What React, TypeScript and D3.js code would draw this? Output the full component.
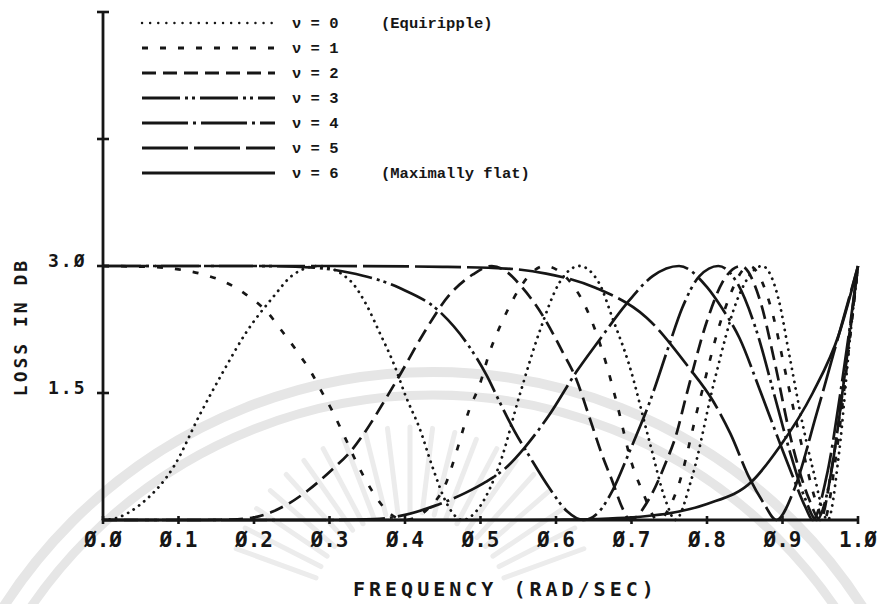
import React from "react";
import * as d3 from "d3";

type Pt = [number, number];

// Passband loss (dB) versus frequency (rad/s), one series per transitional parameter ν
const nu0: Pt[] = [
  [0, 0], [0.02, 0.03], [0.049, 0.18], [0.095, 0.65], [0.128, 1.24], [0.159, 1.75],
  [0.19, 2.22], [0.225, 2.63], [0.251, 2.89], [0.285, 3.0], [0.327, 2.83], [0.349, 2.54],
  [0.366, 2.22], [0.384, 1.87], [0.402, 1.44], [0.419, 1.09], [0.437, 0.61], [0.455, 0.2],
  [0.476, 0], [0.5, 0.17], [0.525, 0.65], [0.552, 1.48], [0.578, 2.22], [0.605, 2.81],
  [0.631, 3.0], [0.657, 2.8], [0.675, 2.38], [0.697, 1.83], [0.724, 0.92], [0.746, 0.21],
  [0.758, 0], [0.78, 0.5], [0.81, 1.65], [0.84, 2.6], [0.873, 3.0], [0.895, 2.6],
  [0.909, 1.95], [0.926, 1.16], [0.94, 0.61], [0.96, 0], [0.975, 0.8], [0.99, 2.2], [1.0, 3.0],
];

const nu1: Pt[] = [
  [0, 3.0], [0.06, 2.99], [0.1, 2.96], [0.137, 2.89], [0.164, 2.8], [0.19, 2.66],
  [0.217, 2.46], [0.238, 2.22], [0.258, 1.98], [0.276, 1.74], [0.29, 1.51], [0.303, 1.3],
  [0.316, 1.06], [0.342, 0.57], [0.356, 0.35], [0.377, 0.1], [0.4, 0], [0.43, 0.13],
  [0.455, 0.45], [0.468, 0.8], [0.485, 1.3], [0.499, 1.6], [0.512, 1.98], [0.525, 2.27],
  [0.536, 2.48], [0.552, 2.74], [0.585, 3.0], [0.615, 2.85], [0.638, 2.54], [0.667, 1.83],
  [0.68, 1.4], [0.701, 0.65], [0.714, 0.35], [0.735, 0], [0.76, 0.35], [0.79, 1.4],
  [0.822, 2.45], [0.856, 3.0], [0.885, 2.5], [0.905, 1.7], [0.925, 0.9], [0.945, 0.2],
  [0.955, 0], [0.97, 0.7], [0.985, 1.8], [1.0, 3.0],
];

const nu2: Pt[] = [
  [0, 0], [0.12, 0], [0.17, 0.005], [0.2, 0.03], [0.225, 0.1], [0.247, 0.2], [0.27, 0.34],
  [0.304, 0.6], [0.327, 0.8], [0.344, 1.0], [0.375, 1.44], [0.393, 1.71], [0.423, 2.18],
  [0.459, 2.66], [0.49, 2.9], [0.515, 3.0], [0.535, 2.93], [0.552, 2.78], [0.582, 2.42],
  [0.609, 1.98], [0.627, 1.66], [0.644, 1.22], [0.661, 0.77], [0.675, 0.45], [0.688, 0.14],
  [0.698, 0], [0.724, 0.26], [0.746, 0.69], [0.759, 1.0], [0.772, 1.45], [0.8, 2.35],
  [0.82, 2.8], [0.845, 3.0], [0.87, 2.6], [0.89, 1.85], [0.91, 1.0], [0.935, 0.25],
  [0.95, 0], [0.965, 0.6], [0.985, 1.9], [1.0, 3.0],
];

const nu3: Pt[] = [
  [0, 3.0], [0.2, 3.0], [0.28, 2.98], [0.327, 2.92], [0.393, 2.74], [0.446, 2.46],
  [0.481, 2.1], [0.508, 1.71], [0.525, 1.4], [0.545, 1.05], [0.565, 0.75], [0.591, 0.38],
  [0.615, 0.1], [0.636, 0], [0.655, 0.08], [0.675, 0.35], [0.697, 0.8], [0.724, 1.39],
  [0.75, 2.07], [0.767, 2.5], [0.79, 2.88], [0.815, 3.0], [0.84, 2.8], [0.865, 2.25],
  [0.89, 1.45], [0.91, 0.8], [0.93, 0.25], [0.945, 0], [0.96, 0.35], [0.975, 1.2],
  [0.99, 2.3], [1.0, 3.0],
];

const nu4: Pt[] = [
  [0, 0], [0.3, 0], [0.36, 0.01], [0.4, 0.06], [0.44, 0.17], [0.48, 0.32], [0.507, 0.45],
  [0.534, 0.62], [0.558, 0.85], [0.591, 1.24], [0.627, 1.75], [0.657, 2.12], [0.693, 2.55],
  [0.728, 2.88], [0.763, 3.0], [0.8, 2.75], [0.82, 2.5], [0.843, 2.15], [0.869, 1.56],
  [0.896, 0.92], [0.913, 0.53], [0.931, 0.14], [0.94, 0], [0.958, 0.5], [0.98, 1.7], [1.0, 3.0],
];

const nu5: Pt[] = [
  [0, 3.0], [0.3, 3.0], [0.45, 2.99], [0.534, 2.97], [0.587, 2.91], [0.653, 2.74],
  [0.72, 2.39], [0.776, 1.8], [0.807, 1.42], [0.831, 1.02], [0.856, 0.5], [0.875, 0.2],
  [0.892, 0], [0.915, 0.35], [0.945, 1.25], [0.975, 2.2], [1.0, 3.0],
];

const nu6: Pt[] = [
  [0, 0], [0.55, 0], [0.6, 0.003], [0.65, 0.01], [0.7, 0.03], [0.763, 0.1], [0.8, 0.19],
  [0.86, 0.46], [0.895, 0.85], [0.94, 1.5], [0.975, 2.2], [1.0, 3.0],
];

const seriesData: Pt[][] = [nu0, nu1, nu2, nu3, nu4, nu5, nu6];
const seriesLabels = ["ν = 0", "ν = 1", "ν = 2", "ν = 3", "ν = 4", "ν = 5", "ν = 6"];
const seriesNotes = ["(Equiripple)", "", "", "", "", "", "(Maximally flat)"];

const xTicks = [0, 0.1, 0.2, 0.3, 0.4, 0.5, 0.6, 0.7, 0.8, 0.9, 1.0];
const yTicks = [1.5, 3.0, 4.5, 6.0];
const yTickLabels = ["1.5", "3.Ø", "", ""];

// line pattern for each ν: dotted, short dash, dash, dash-dot-dot, dash-dot, long dash, solid
const dashes = ["0.1 6.5", "6 12", "14 7", "38 5 3 4 3 5", "46 5 3 5", "46 6", ""];

const INK = "#161616";
const MONO = "'DejaVu Sans Mono', monospace";

const fmtTick = (v: number) => v.toFixed(1).replace(/0/g, "Ø");

export default function App() {
  const x = d3.scaleLinear().domain([0, 1]).range([103, 858]);
  const y = d3.scaleLinear().domain([0, 6]).range([520, 12]);
  const line = d3
    .line<Pt>()
    .x((d) => x(d[0]))
    .y((d) => y(d[1]))
    .curve(d3.curveMonotoneX);

  // faint seal in the paper background
  const sealC = { cx: 433, cy: 882 };
  const sun = { cx: 410, cy: 612 };
  const rays = d3.range(-160, -15, 7);

  return (
    <svg
      width={879}
      height={604}
      style={{ position: "absolute", left: 0, top: 0, background: "#fff" }}
    >
      <rect x={0} y={0} width={879} height={604} fill="#fff" />
      <g fill="none" stroke="#e6e6e6">
        <circle cx={sealC.cx} cy={sealC.cy} r={510} strokeWidth={10} />
        <circle cx={sealC.cx} cy={sealC.cy} r={487} strokeWidth={9} />
        {rays.map((a) => {
          const r = (a * Math.PI) / 180;
          return (
            <line
              key={a}
              x1={sun.cx + 100 * Math.cos(r)}
              y1={sun.cy + 100 * Math.sin(r)}
              x2={sun.cx + 185 * Math.cos(r)}
              y2={sun.cy + 185 * Math.sin(r)}
              strokeWidth={5}
              strokeLinecap="round"
              stroke="#ececec"
            />
          );
        })}
      </g>

      {/* axes */}
      <line x1={x(0)} x2={x(0)} y1={y(0)} y2={y(6)} stroke={INK} strokeWidth={2.8} />
      <line x1={x(0)} x2={x(1)} y1={y(0)} y2={y(0)} stroke={INK} strokeWidth={3.2} />
      {xTicks.map((t) => (
        <g key={t}>
          <line x1={x(t)} x2={x(t)} y1={y(0) - 4} y2={y(0) + 4} stroke={INK} strokeWidth={2.6} />
          <text
            x={x(t)}
            y={547}
            textAnchor="middle"
            fontFamily={MONO}
            fontWeight="bold"
            fontSize={21}
            fill={INK}
          >
            {fmtTick(t)}
          </text>
        </g>
      ))}
      {yTicks.map((t, i) => (
        <g key={t}>
          <line x1={x(0) - 6} x2={x(0) + 6} y1={y(t)} y2={y(t)} stroke={INK} strokeWidth={2.6} />
          {yTickLabels[i] && (
            <text
              x={48}
              y={y(t) + 1}
              fontFamily={MONO}
              fontWeight="bold"
              fontSize={18}
              letterSpacing={2}
              fill={INK}
            >
              {yTickLabels[i]}
            </text>
          )}
        </g>
      ))}

      <text
        transform="translate(27,327) rotate(-90)"
        textAnchor="middle"
        fontFamily={MONO}
        fontWeight="bold"
        fontSize={18}
        letterSpacing={3}
        fill={INK}
      >
        LOSS IN DB
      </text>
      <text
        x={353}
        y={596}
        fontFamily={MONO}
        fontWeight="bold"
        fontSize={20}
        letterSpacing={4}
        fill={INK}
      >
        FREQUENCY (RAD/SEC)
      </text>

      {/* loss curves */}
      {seriesData.map((d, i) => (
        <path
          key={i}
          d={line(d) ?? ""}
          fill="none"
          stroke={INK}
          strokeWidth={i === 0 ? 2.8 : 2.7}
          strokeDasharray={dashes[i] || undefined}
          strokeLinecap={i === 0 ? "round" : "butt"}
        />
      ))}

      {/* legend */}
      {seriesLabels.map((lab, i) => {
        const ly = 23 + i * 25;
        return (
          <g key={lab}>
            <line
              x1={142}
              x2={275}
              y1={ly}
              y2={ly}
              stroke={INK}
              strokeWidth={i === 0 ? 2.4 : 3}
              strokeDasharray={i === 0 ? "0.1 8" : dashes[i] || undefined}
              strokeLinecap={i === 0 ? "round" : "butt"}
            />
            <text
              x={292}
              y={ly + 5}
              fontFamily="'Liberation Mono', monospace"
              fontWeight="bold"
              fontSize={15.5}
              fill={INK}
            >
              {lab}
            </text>
            {seriesNotes[i] && (
              <text
                x={381}
                y={ly + 5}
                fontFamily="'Liberation Mono', monospace"
                fontWeight="bold"
                fontSize={15.5}
                fill={INK}
              >
                {seriesNotes[i]}
              </text>
            )}
          </g>
        );
      })}
    </svg>
  );
}
